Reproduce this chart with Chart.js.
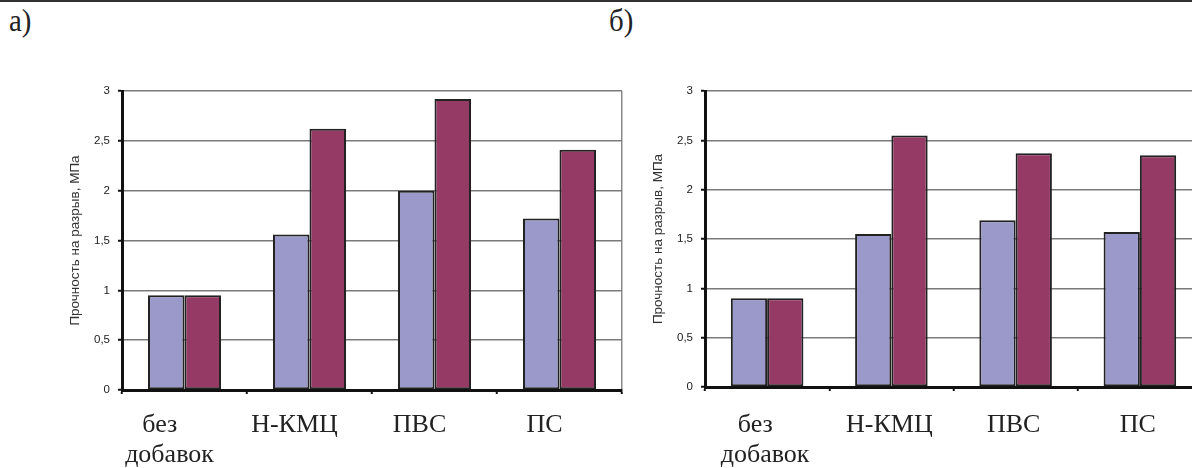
<!DOCTYPE html>
<html>
<head>
<meta charset="utf-8">
<script src="https://cdn.jsdelivr.net/npm/chart.js@4.4.1/dist/chart.umd.min.js"></script>
<style>
  html, body { margin: 0; padding: 0; background: #fff; }
  body { width: 1192px; height: 468px; overflow: hidden; position: relative; }
  .rule { position: absolute; left: 0; top: 0; width: 1192px; height: 2px; background: #333; }
  .panel { position: absolute; font-family: 'Liberation Serif', serif; font-size: 32px; color: #222; transform: scaleX(0.9); transform-origin: left top; }
  .box { position: absolute; top: 0; height: 468px; }
</style>
</head>
<body>
<div class="rule"></div>
<div class="panel" style="left:9px; top:2px;">а)</div>
<div class="panel" style="left:609px; top:2px;">б)</div>
<div class="box" style="left:0; width:640px;"><canvas id="chartA"></canvas></div>
<div class="box" style="left:583px; width:637px;"><canvas id="chartB"></canvas></div>
<script>
// Данные
var categories = ['без добавок', 'Н-КМЦ', 'ПВС', 'ПС'];
var yTicks = [0, 0.5, 1, 1.5, 2, 2.5, 3];
var yTitle = 'Прочность на разрыв, МПа';

// а)
var seriesA1 = [0.95, 1.56, 2.0, 1.72];
var seriesA2 = [0.95, 2.62, 2.92, 2.41];
// б)
var seriesB1 = [0.9, 1.55, 1.69, 1.57];
var seriesB2 = [0.9, 2.55, 2.37, 2.35];

function makeChart(id, data1, data2, cfg) {
    var ctx = document.getElementById(id).getContext('2d');
    return new Chart(ctx, {
        type: 'bar',
        data: {
            labels: categories,
            datasets: [
                {
                    data: data1,
                    backgroundColor: '#9a99c9',
                    borderColor: '#222',
                    borderWidth: 2,
                    borderSkipped: false,
                    categoryPercentage: 0.584,
                    barPercentage: 1
                },
                {
                    data: data2,
                    backgroundColor: '#953965',
                    borderColor: '#222',
                    borderWidth: 2,
                    borderSkipped: false,
                    categoryPercentage: 0.584,
                    barPercentage: 1
                }
            ]
        },
        options: {
            responsive: true,
            maintainAspectRatio: false,
            animation: false,
            layout: {
                padding: { left: 63, top: cfg.top, right: 18, bottom: 0 }
            },
            scales: {
                x: {
                    grid: {
                        offset: true,
                        // только правая граница области построения
                        color: function(c) { return c.tick ? 'transparent' : '#8a8a8a'; },
                        lineWidth: 1.5,
                        tickColor: '#111',
                        tickLength: 4,
                        tickWidth: 2
                    },
                    border: { color: '#111', width: 3 },
                    ticks: {
                        color: '#222',
                        font: { family: 'Liberation Serif', size: 26, lineHeight: 1.15 },
                        padding: cfg.labelPad,
                        labelOffset: cfg.labelOffset,
                        maxRotation: 0,
                        autoSkip: false,
                        callback: function(value) {
                            var s = categories[value];
                            if (s.indexOf(' ') > 0) {
                                var parts = s.split(' ');
                                return [parts[0] + '   ', parts[1]];
                            }
                            return s;
                        }
                    },
                    afterFit: function(axis) { axis.height = cfg.xHeight; }
                },
                y: {
                    min: 0,
                    max: 3,
                    afterBuildTicks: function(axis) {
                        axis.ticks = yTicks.map(function(v) { return { value: v }; });
                    },
                    grid: {
                        color: '#7a7a7a',
                        lineWidth: 1.5,
                        tickColor: '#111',
                        tickLength: 4,
                        tickWidth: 2
                    },
                    border: { color: '#111', width: 3 },
                    ticks: {
                        color: '#222',
                        font: { family: 'Liberation Sans', size: 11.5 },
                        padding: 8,
                        callback: function(value) {
                            return String(value).replace('.', ',');
                        }
                    },
                    title: {
                        display: true,
                        text: yTitle,
                        color: '#333',
                        font: { family: 'Liberation Sans', size: 13.5 },
                        padding: { top: 4, bottom: 4 }
                    },
                    afterFit: function(axis) { axis.width = 59; }
                }
            },
            plugins: {
                legend: { display: false },
                tooltip: { enabled: false }
            }
        }
    });
}

makeChart('chartA', seriesA1, seriesA2, { top: 91, xHeight: 78, labelPad: 16, labelOffset: -15 });
makeChart('chartB', seriesB1, seriesB2, { top: 91, xHeight: 81, labelPad: 19, labelOffset: -2 });
</script>
</body>
</html>
